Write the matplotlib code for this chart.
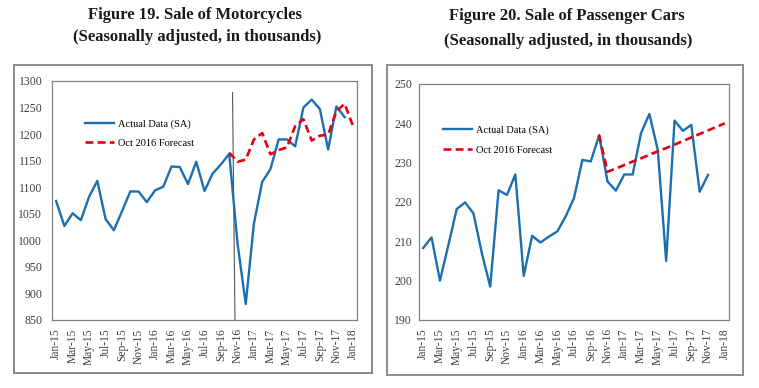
import matplotlib
matplotlib.use("Agg")
import matplotlib.pyplot as plt
from matplotlib.patches import Rectangle

plt.rcParams['font.family'] = ['Liberation Serif', 'DejaVu Serif']

# Month labels shown on the x axis (every other month, Jan-15 .. Jan-18)
tick_labels = ["Jan-15", "Mar-15", "May-15", "Jul-15", "Sep-15", "Nov-15",
               "Jan-16", "Mar-16", "May-16", "Jul-16", "Sep-16", "Nov-16",
               "Jan-17", "Mar-17", "May-17", "Jul-17", "Sep-17", "Nov-17",
               "Jan-18"]
n_months = 37  # Jan-15 .. Jan-18

# Figure 19: motorcycles, actual data Jan-15 .. Dec-17
moto_actual = [1074, 1027, 1051, 1038, 1082, 1112, 1040, 1019, 1055, 1092,
               1092, 1072, 1094, 1101, 1139, 1138, 1106, 1148, 1093, 1126,
               1143, 1163, 995, 880, 1032, 1110, 1134, 1190, 1190, 1177,
               1250, 1265, 1247, 1171, 1252, 1232]
# Oct 2016 forecast, Oct-16 .. Jan-18
moto_fcst_start = 21
moto_forecast = [1165, 1148, 1152, 1190, 1202, 1162, 1170, 1175, 1215, 1228,
                 1188, 1197, 1199, 1243, 1257, 1216]

# Figure 20: passenger cars, actual data Jan-15 .. Nov-17
cars_actual = [208.3, 211.0, 200.0, 209.0, 218.2, 219.9, 217.1, 207.0, 198.5,
               223.0, 221.8, 227.0, 201.2, 211.4, 209.7, 211.2, 212.5, 216.3,
               221.0, 230.7, 230.3, 237.0, 225.2, 222.9, 227.0, 227.0, 237.5,
               242.4, 233.2, 205.0, 240.7, 238.1, 239.6, 222.6, 226.9]
# Oct 2016 forecast, Oct-16 .. Jan-18
cars_fcst_start = 21
cars_forecast = [237.0, 227.7, 228.5, 229.4, 230.3, 231.1, 232.0, 232.9, 233.7,
                 234.6, 235.5, 236.4, 237.3, 238.2, 239.1, 240.0]

BLUE = "#1a6fb0"
RED = "#e3000f"
GRAY = "#808080"
W, H = 759, 388

fig = plt.figure(figsize=(W / 100, H / 100), dpi=100)


def px_axes(left, top, right, bottom):
    return fig.add_axes([left / W, 1 - bottom / H, (right - left) / W, (bottom - top) / H])


def frame(left, top, right, bottom):
    fig.patches.append(Rectangle((left / W, 1 - bottom / H), (right - left) / W,
                                 (bottom - top) / H, transform=fig.transFigure,
                                 fill=False, edgecolor="#8a8a8a", lw=1.4))


def style(ax, ylim, yticks, ypad):
    ax.set_xlim(-0.5, n_months - 0.5)
    ax.set_ylim(*ylim)
    ax.set_yticks(yticks)
    ax.set_xticks(range(0, n_months, 2))
    ax.set_xticklabels(tick_labels, rotation=90, fontsize=8.3, color="#404040")
    ax.tick_params(axis="y", length=0, pad=ypad, labelsize=8.5, labelcolor="#404040")
    ax.tick_params(axis="x", length=0, pad=6)
    for s in ax.spines.values():
        s.set_color(GRAY)
        s.set_linewidth(0.9)


frame(14, 65, 372, 373)
frame(387, 65, 743, 375)

# ---- left panel
ax1 = px_axes(52, 81, 357, 320)
ax1.plot(range(len(moto_actual)), moto_actual, color=BLUE, lw=1.7,
         label="Actual Data (SA)", zorder=3)
xf = range(moto_fcst_start, moto_fcst_start + len(moto_forecast))
ax1.plot(xf, moto_forecast, color=RED, lw=1.9, ls=(0, (3, 1.6)),
         label="Oct 2016 Forecast", zorder=4)
ax1.plot([21.4, 21.7], [1278, 850], color="#555555", lw=0.8, zorder=2)
style(ax1, (850, 1300), range(850, 1301, 50), 7)
ax1.legend(loc="upper left", bbox_to_anchor=(85 / W, 1 - 119 / H),
           bbox_transform=fig.transFigure, frameon=False, fontsize=7.5,
           handlelength=2.8, handletextpad=0.4, borderpad=0, borderaxespad=0,
           labelspacing=0.94)

# ---- right panel
ax2 = px_axes(419, 84, 729, 320)
ax2.plot(range(len(cars_actual)), cars_actual, color=BLUE, lw=1.7,
         label="Actual Data (SA)", zorder=3)
xf = range(cars_fcst_start, cars_fcst_start + len(cars_forecast))
ax2.plot(xf, cars_forecast, color=RED, lw=1.9, ls=(0, (3, 1.6)),
         label="Oct 2016 Forecast", zorder=4)
style(ax2, (190, 250), range(190, 251, 10), 5)
ax2.legend(loc="upper left", bbox_to_anchor=(443 / W, 1 - 125 / H),
           bbox_transform=fig.transFigure, frameon=False, fontsize=7.5,
           handlelength=2.8, handletextpad=0.4, borderpad=0, borderaxespad=0,
           labelspacing=1.04)

# ---- titles
title_kw = dict(ha="center", va="center", fontsize=12, fontweight="bold", color="#1a1a1a")
fig.text(195 / W, 1 - 15 / H, "Figure 19. Sale of Motorcycles", **title_kw)
fig.text(197 / W, 1 - 37 / H, "(Seasonally adjusted, in thousands)", **title_kw)
fig.text(567 / W, 1 - 16 / H, "Figure 20. Sale of Passenger Cars", **title_kw)
fig.text(568 / W, 1 - 41 / H, "(Seasonally adjusted, in thousands)", **title_kw)

fig.savefig("out.png", dpi=100)
